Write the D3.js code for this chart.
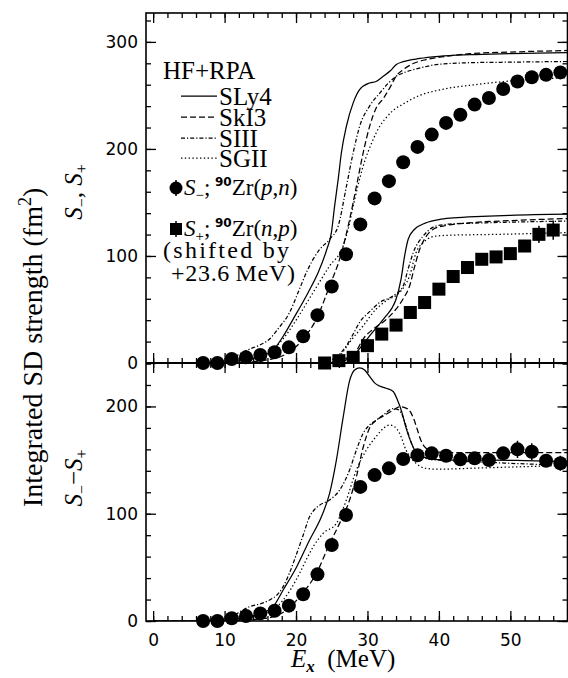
<!DOCTYPE html>
<html><head><meta charset="utf-8">
<script src="https://cdn.jsdelivr.net/npm/d3@7"></script>
<style>
body{margin:0;background:#fff}
svg{display:block}
</style></head><body>
<script>
// ---- measured data: 90Zr spin-dipole strength ----
const expEnergy = [7,9,11,13,15,17,19,21,23,25,27,29,31,33,35,37,39,41,43,45,47,49,51,53,55,57];
const expSminus = [0,0,3.7,5.3,7.5,10,14.6,24.9,44.7,71.5,101.6,129.5,153.8,169.9,187.6,201.9,213.4,224.3,232,241.4,247.6,256,263,267,269.2,271.5];
const expSminusErr = [0,0,0,0,0,0,0,0,0,0,0,0,0,0,0,0,0,0,0,2,2,3,3,3,4,4];
const expPlusEnergy = [24,26,28,30,32,34,36,38,40,42,44,46,48,50,52,54,56];
const expSplus = [0,2.2,5.3,16.2,27,35.4,47.2,56.5,69,80.8,89.2,96.9,99.1,102.2,109.3,120.2,124.2];
const expSplusErr = [0,0,0,0,0,0,0,0,0,0,0,0,0,3,4,8,9];
const expDiff = [0,0,2.5,4.7,7.1,9.6,14.3,24.9,43.5,70.8,98.8,125,136,142.3,151,154.5,156.3,154,150.7,151.6,150,156.3,160,157.8,149.4,147];
const expDiffErr = [0,0,0,0,0,0,0,0,0,0,0,0,0,0,0,0,0,0,0,0,0,3,8,8,4,7];

// ---- HF+RPA results: [Ex, value] ----
const forceNames = ["SLy4","SkI3","SIII","SGII"];
const forceDash = [null,"6,3","4,2,1.2,2","1.4,2.4"];

const sMinusSLy4 = [[0,0],[8,0],[10,0.5],[12,2],[14,4.5],[15.5,7],[16.8,12],[18.2,25],[19.6,41],[21.7,65.9],[23.1,84.5],[24.3,106],[24.95,121.8],[25.4,146.6],[25.9,171.5],[26.35,196.4],[27.05,221.2],[28.0,243],[28.9,255.4],[30.3,261.6],[31.2,263],[32.2,267.8],[33.2,273],[34.0,278.7],[35,281.5],[37.3,284.5],[40,286.5],[44.3,288],[50,289],[58,290]];
const sMinusSkI3 = [[0,0],[10,0],[13,0.5],[15,2],[16.8,4],[18.2,7],[21.0,22.4],[22.85,41],[24.7,72],[26.1,97],[27.5,134],[28.45,165],[29.4,196.4],[30.3,221],[31.2,238],[32.2,247],[33.2,258],[34.0,268],[35.0,274],[36.5,280],[38.2,283.5],[41,286.5],[44.3,289],[50,290.5],[58,292]];
const sMinusSIII = [[0,0],[8,0.5],[10,2],[11.5,6],[12.5,10],[13.5,13],[15,17],[16.3,22.4],[17.5,32],[19.1,47.2],[20.3,66],[21.45,84.5],[22.4,97],[23.3,106],[24.7,115.6],[25.9,128],[27.05,165],[28.0,196.4],[28.9,221],[30.3,240],[31.7,252],[33,262],[34.0,267.8],[35,271],[37,275],[39.6,278.7],[44,280.5],[49,281],[58,281.7]];
const sMinusSGII = [[0,0],[8,0],[10,0.5],[12,2],[14,4],[16,9],[17.3,16],[18.7,27],[20.1,41],[22.4,66],[24.7,90.7],[26.6,109.3],[27.3,125],[28.0,146.6],[29.4,184],[30.8,208.8],[31.7,221],[32.6,229],[33.6,236],[35,242],[37.3,250],[40,255],[45,260],[50,263.5],[58,266.5]];

const sPlusSLy4 = [[23,0],[25.2,0.6],[26.6,3.7],[28,6.8],[29.2,16],[30.3,25.4],[31.5,35],[32.6,44],[33.4,51],[34.0,59.6],[34.7,78.3],[35.2,100],[35.7,115.6],[36.6,125],[37.5,129],[38.2,131],[40,134],[42,135.5],[46,137],[50,138],[58,139]];
const sPlusSkI3 = [[23,0],[26,0.6],[27.5,5],[28.5,12],[29.4,22.4],[30.8,31.7],[32.5,40],[34.0,50.3],[35.0,60],[35.9,72],[36.6,90],[37.3,106],[38.2,118],[39.2,125],[41,128.5],[44.3,131],[50,133],[58,135]];
const sPlusSIII = [[23,0],[24.2,1],[25.2,3.7],[26.2,9],[27.05,16],[28.0,27],[28.9,38],[30.3,48],[31.7,56.5],[33.6,62.7],[35,72],[35.7,88],[36.4,103],[37.8,118.6],[39.6,128],[42,130],[46.6,131],[58,132.6]];
const sPlusSGII = [[23,0],[25,1],[26.3,8],[27.5,19.3],[29.4,34.8],[31.2,50.3],[32.6,58],[34.5,65.9],[35.2,72],[35.9,81.4],[36.8,103],[37.8,112.5],[39.6,118.6],[42,119.5],[46.6,120],[58,121.8]];

const diffSLy4 = [[0,0],[8,0],[10,0.5],[12,2],[14,5],[15.5,8],[16.8,13.4],[18.2,28.9],[20.1,50.6],[21.9,75.5],[23.55,97.2],[24.7,119],[25.65,150],[26.6,190],[27.5,224],[28.2,234],[28.9,236],[29.6,234],[30.3,228],[31.0,222],[31.7,219],[32.6,217],[33.6,214],[34.2,206],[34.8,195],[35.4,180],[35.9,170],[36.4,162],[36.8,157],[37.8,153],[39.2,150.7],[42,150],[47.6,150],[52,149.5],[58,148.5]];
const diffSkI3 = [[0,0],[10,0],[13,0.5],[15,2],[16.8,4],[18.7,10.3],[20.5,22.6],[22.85,44.5],[24.7,72],[26.1,91],[27.5,112.8],[28.45,134.5],[29.4,162],[30.3,180],[31.2,187],[32.2,191],[33.6,196.6],[34.5,199.7],[35.4,198.5],[35.9,196],[36.5,188],[37.0,178],[37.5,168],[38.2,161],[39.2,158],[41,157],[45,157],[50,157],[58,157]];
const diffSIII = [[0,0],[8,0.5],[10,2],[11.5,6],[12.5,10],[13.5,13.4],[15,16],[16.3,19.6],[17.3,24],[18.2,32],[19.1,45],[20.1,63],[21.0,80],[21.9,97.2],[22.6,104],[23.3,108],[24.7,112.8],[26.1,122],[27.5,140.7],[28.45,159.4],[29.4,175],[30.3,182.7],[31.2,187],[32.2,192],[33.6,198],[34.3,197],[35.0,190],[35.6,177],[36.2,165],[37,156],[37.8,152],[40,150],[44.8,148.5],[50,147],[58,145]];
const diffSGII = [[0,0],[8,0],[10,0.5],[12,2],[14,4],[16,8],[17.3,13],[18.2,19.6],[19.3,30],[20.5,44.5],[21.5,58],[22.4,69.2],[23.8,81.7],[25.65,91],[26.3,100],[27.05,112.8],[28.45,140.7],[29.85,159.4],[31.2,171.8],[32.3,180],[33.1,182.7],[33.8,181],[34.5,175],[35.4,159.4],[36.1,152],[36.8,147],[38.2,142.2],[40,141.5],[45,142.5],[50,143.5],[58,145]];

const xTickLabels = [0,10,20,30,40,50];
const topYTicks = [0,100,200,300];
const bottomYTicks = [0,100,200];

// ---- layout ----
const W = 568, H = 678;
const left = 146, right = 567.5;
const topY0 = 13, midY = 363, botY1 = 621;

const svg = d3.select("body").append("svg").attr("width", W).attr("height", H);

const x = d3.scaleLinear().domain([-1, 58]).range([left, right]);
const yTop = d3.scaleLinear().domain([0, 327]).range([midY, topY0]);
const yBot = d3.scaleLinear().domain([0, 240.5]).range([botY1, midY]);

const defs = svg.append("defs");
defs.append("clipPath").attr("id","clipTop").append("rect")
  .attr("x", left).attr("y", topY0).attr("width", right-left).attr("height", midY-topY0);
defs.append("clipPath").attr("id","clipBot").append("rect")
  .attr("x", left).attr("y", midY).attr("width", right-left).attr("height", botY1-midY);
defs.append("clipPath").attr("id","clipTopPts").append("rect")
  .attr("x", left).attr("y", topY0).attr("width", right-left).attr("height", midY-topY0+8);
defs.append("clipPath").attr("id","clipBotPts").append("rect")
  .attr("x", left).attr("y", midY-8).attr("width", right-left).attr("height", botY1-midY+16);

const tickFont = "'DejaVu Sans', sans-serif";
const serif = "'Liberation Serif', 'Times New Roman', serif";

function panelAxes(yScale, y0, y1, yMajor, showX) {
  const g = svg.append("g");
  const minorX = d3.range(0, 58.01, 2);
  const majorX = d3.range(0, 58.01, 10);
  const minorY = d3.range(0, yScale.domain()[1], 20);
  const addAxis = (axis, tr) => {
    const a = g.append("g").attr("transform", tr).call(axis);
    a.select(".domain").remove();
    a.selectAll("line").attr("stroke","#000").attr("stroke-width",1.3);
    a.selectAll("text").attr("font-family", tickFont).attr("font-size", 17).attr("fill","#000");
    return a;
  };
  // bottom edge
  addAxis(d3.axisBottom(x).tickValues(minorX).tickSize(-5).tickFormat(""), `translate(0,${y1})`);
  addAxis(d3.axisBottom(x).tickValues(majorX).tickSize(-10).tickPadding(13)
    .tickFormat(showX ? (d => xTickLabels.includes(d) ? d : "") : ""), `translate(0,${y1})`);
  // top edge
  addAxis(d3.axisTop(x).tickValues(minorX).tickSize(-5).tickFormat(""), `translate(0,${y0})`);
  addAxis(d3.axisTop(x).tickValues(majorX).tickSize(-10).tickFormat(""), `translate(0,${y0})`);
  // left edge
  addAxis(d3.axisLeft(yScale).tickValues(minorY).tickSize(-5).tickFormat(""), `translate(${left},0)`);
  addAxis(d3.axisLeft(yScale).tickValues(yMajor).tickSize(-10).tickPadding(8), `translate(${left},0)`);
  // right edge
  addAxis(d3.axisRight(yScale).tickValues(minorY).tickSize(-5).tickFormat(""), `translate(${right},0)`);
  addAxis(d3.axisRight(yScale).tickValues(yMajor).tickSize(-10).tickFormat(""), `translate(${right},0)`);
}

panelAxes(yTop, topY0, midY, topYTicks, false);
panelAxes(yBot, midY, botY1, bottomYTicks, true);

// frame and panel divider
svg.append("rect").attr("x", left).attr("y", topY0).attr("width", right-left).attr("height", botY1-topY0)
  .attr("fill","none").attr("stroke","#000").attr("stroke-width",1.6);
svg.append("line").attr("x1", left).attr("x2", right).attr("y1", midY).attr("y2", midY)
  .attr("stroke","#000").attr("stroke-width",2);

// ---- curves ----
function drawCurves(sets, yScale, clip) {
  const g = svg.append("g").attr("clip-path", `url(#${clip})`);
  const line = d3.line().x(d => x(d[0])).y(d => yScale(d[1])).curve(d3.curveMonotoneX);
  sets.forEach((s, i) => {
    g.append("path").attr("d", line(s)).attr("fill","none").attr("stroke","#000")
      .attr("stroke-width", 1.25).attr("stroke-dasharray", forceDash[i]);
  });
}
drawCurves([sMinusSLy4, sMinusSkI3, sMinusSIII, sMinusSGII], yTop, "clipTop");
drawCurves([sPlusSLy4, sPlusSkI3, sPlusSIII, sPlusSGII], yTop, "clipTop");
drawCurves([diffSLy4, diffSkI3, diffSIII, diffSGII], yBot, "clipBot");

// ---- measured points ----
function drawPoints(xs, ys, errs, yScale, shape, clip) {
  const g = svg.append("g").attr("clip-path", `url(#${clip})`);
  xs.forEach((e, i) => {
    if (errs[i] > 0) {
      g.append("line").attr("x1", x(e)).attr("x2", x(e))
        .attr("y1", yScale(ys[i] - errs[i])).attr("y2", yScale(ys[i] + errs[i]))
        .attr("stroke","#000").attr("stroke-width",1.5);
    }
    if (shape === "circle") {
      g.append("circle").attr("cx", x(e)).attr("cy", yScale(ys[i])).attr("r", 7).attr("fill","#000");
    } else {
      g.append("rect").attr("x", x(e)-6.5).attr("y", yScale(ys[i])-6.5)
        .attr("width", 13).attr("height", 13).attr("fill","#000");
    }
  });
}
drawPoints(expEnergy, expSminus, expSminusErr, yTop, "circle", "clipTopPts");
drawPoints(expPlusEnergy, expSplus, expSplusErr, yTop, "square", "clipTopPts");
drawPoints(expEnergy, expDiff, expDiffErr, yBot, "circle", "clipBotPts");

// ---- legend ----
const leg = svg.append("g").attr("font-family", serif).attr("fill","#000");
leg.append("text").attr("x", 163).attr("y", 79).attr("font-size", 25).text("HF+RPA");
const legRows = [96, 117, 138, 158];
forceNames.forEach((n, i) => {
  leg.append("line").attr("x1", 181).attr("x2", 217).attr("y1", legRows[i]).attr("y2", legRows[i])
    .attr("stroke","#000").attr("stroke-width",1.25).attr("stroke-dasharray", forceDash[i]);
  leg.append("text").attr("x", 219).attr("y", legRows[i] + 9).attr("font-size", 25).text(n);
});

// S- marker
leg.append("line").attr("x1",176).attr("x2",176).attr("y1",180).attr("y2",196).attr("stroke","#000").attr("stroke-width",1.5);
leg.append("circle").attr("cx",176).attr("cy",188).attr("r",6.5).attr("fill","#000");
// S+ marker
leg.append("line").attr("x1",176).attr("x2",176).attr("y1",221).attr("y2",237).attr("stroke","#000").attr("stroke-width",1.5);
leg.append("rect").attr("x",170).attr("y",223).attr("width",12).attr("height",12).attr("fill","#000");

function reactionLabel(y, sub, a, b) {
  const t = leg.append("text").attr("x", 184).attr("y", y).attr("font-size", 23);
  t.append("tspan").attr("font-style","italic").text("S");
  t.append("tspan").attr("font-size", 15).attr("dy", 5).text(sub);
  t.append("tspan").attr("dy", -5).text(";\u2009");
  t.append("tspan").attr("font-family", tickFont).attr("font-weight","bold").attr("font-size", 12).attr("dy", -9).text("90");
  t.append("tspan").attr("dy", 9).text("Zr(");
  t.append("tspan").attr("font-style","italic").text(a);
  t.append("tspan").text(",");
  t.append("tspan").attr("font-style","italic").text(b);
  t.append("tspan").text(")");
}
reactionLabel(195, "\u2212", "p", "n");
reactionLabel(236, "+", "n", "p");
leg.append("text").attr("x", 163).attr("y", 258).attr("font-size", 24)
  .attr("textLength", 126).attr("lengthAdjust","spacing").text("(shifted by");
leg.append("text").attr("x", 171).attr("y", 281).attr("font-size", 24)
  .attr("textLength", 124).attr("lengthAdjust","spacing").text("+23.6\u2009MeV)");

// ---- axis titles ----
const xt = svg.append("text").attr("x", 291).attr("y", 667).attr("font-family", serif).attr("font-size", 25).attr("fill","#000");
xt.append("tspan").attr("font-style","italic").text("E");
xt.append("tspan").attr("font-style","italic").attr("font-weight","bold").attr("font-size", 17).attr("dy", 5).text("x");
xt.append("tspan").attr("dy", -5).text("\u2002(MeV)");

const yt = svg.append("text").attr("transform","translate(42,507) rotate(-90)").attr("text-anchor","start")
  .attr("font-family", serif).attr("font-size", 28).attr("fill","#000");
yt.append("tspan").text("Integrated SD strength (fm");
yt.append("tspan").attr("font-size", 18).attr("dy", -11).text("2");
yt.append("tspan").attr("dy", 11).text(")");

function sLabel(cy, parts) {
  const t = svg.append("text").attr("transform",`translate(82,${cy}) rotate(-90)`).attr("text-anchor","middle")
    .attr("font-family", serif).attr("font-size", 25).attr("fill","#000");
  parts.forEach(p => {
    const s = t.append("tspan").text(p.t);
    if (p.i) s.attr("font-style","italic");
    if (p.sub) s.attr("font-size", 16).attr("dy", 5);
    if (p.up) s.attr("dy", -5);
  });
}
sLabel(192, [{t:"S",i:1},{t:"\u2212",sub:1},{t:", ",up:1},{t:"S",i:1},{t:"+",sub:1}]);
sLabel(478, [{t:"S",i:1},{t:"\u2212",sub:1},{t:"\u2212",up:1},{t:"S",i:1},{t:"+",sub:1}]);
</script></body></html>
